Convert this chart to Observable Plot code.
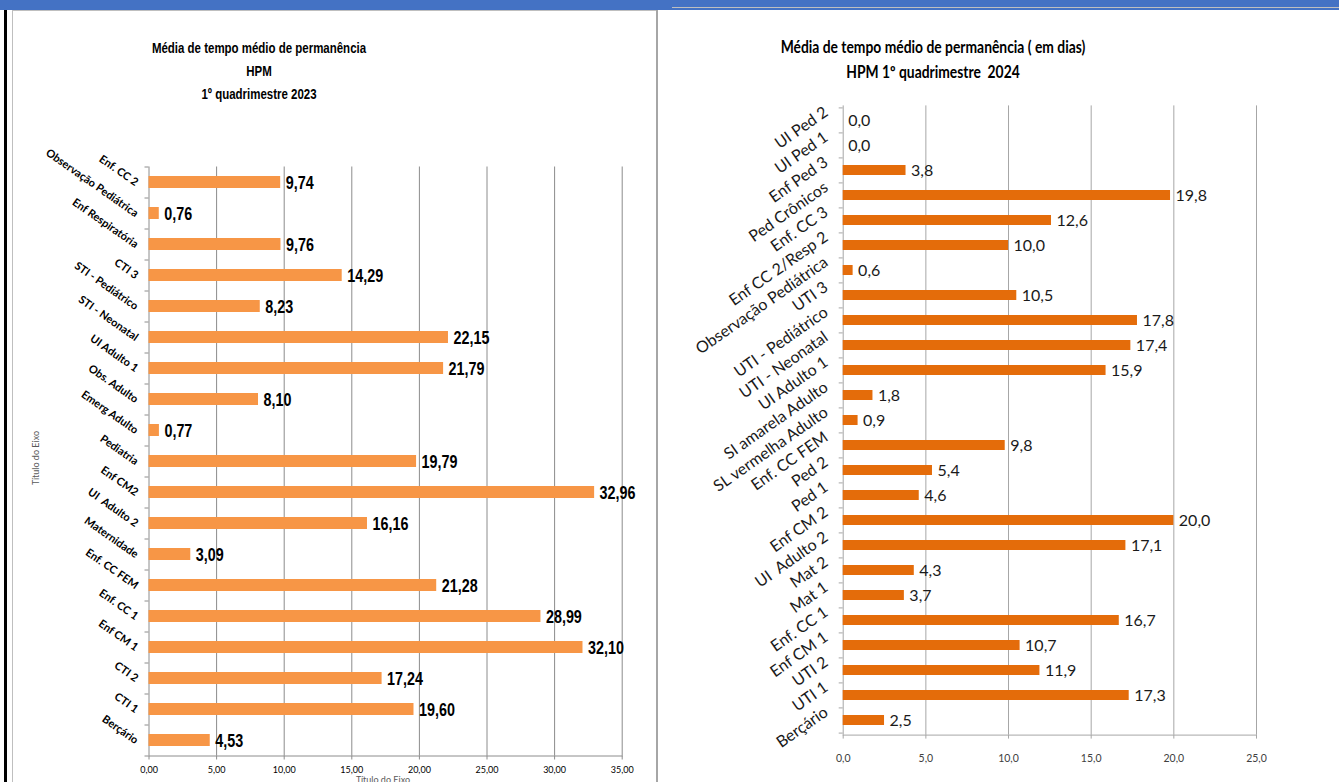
<!DOCTYPE html>
<html><head><meta charset="utf-8">
<script src="https://cdn.jsdelivr.net/npm/d3@7"></script>
<script src="https://cdn.jsdelivr.net/npm/@observablehq/plot@0.6"></script>
<style>
html,body{margin:0;padding:0;background:#fff;}
#page{position:relative;width:1339px;height:782px;overflow:hidden;background:#fff;}
.box{position:absolute;}
.t{position:absolute;white-space:pre;line-height:1;}
.narrow{font-family:"Liberation Sans",Arial,sans-serif;font-weight:bold;color:#000;transform:translate(-50%,-50%) scaleX(0.74);}
.cal{font-family:Lato,"Noto Sans",sans-serif;font-weight:bold;color:#000;transform:translate(-50%,-50%) scaleX(0.84);}
#left,#right{position:absolute;top:0;}
#left{left:0;}
#right{left:672px;}
</style></head><body>
<div id="page">
  <div class="box" style="left:0;top:0;width:1339px;height:10px;background:#4472C4"></div>
  <div class="box" style="left:672px;top:7px;width:667px;height:1px;background:#bfbfbf"></div>
  <div class="box" style="left:12px;top:10px;width:645px;height:1px;background:#bfbfbf"></div>
  <div class="box" style="left:4px;top:10px;width:3px;height:772px;background:#000"></div>
  <div class="box" style="left:12px;top:10px;width:1px;height:772px;background:#bfbfbf"></div>
  <div class="box" style="left:656px;top:10px;width:2px;height:772px;background:#a6a6a6"></div>
  <div id="left"></div>
  <div id="right"></div>
  <div class="t narrow" id="tl1" style="left:259px;top:48px;font-size:15.5px"></div>
  <div class="t narrow" id="tl2" style="left:259px;top:71px;font-size:15.5px"></div>
  <div class="t narrow" id="tl3" style="left:259px;top:94px;font-size:15.5px"></div>
  <div class="t cal" id="tr1" style="left:933px;top:47px;font-size:16.5px"></div>
  <div class="t cal" id="tr2" style="left:933px;top:72px;font-size:16.5px"></div>
  <div class="t" id="ytl" style="left:35px;top:458px;font-size:9px;font-family:Lato,sans-serif;color:#595959;transform:translate(-50%,-50%) rotate(-90deg)"></div>
  <div class="t" id="xtl" style="left:383px;top:779px;font-size:9px;font-family:Lato,sans-serif;color:#595959;transform:translate(-50%,-50%)"></div>
</div>
<script>
// ---- Data: 1º quadrimestre 2023 ----
const titles2023 = ["Média de tempo médio de permanência", "HPM", "1º quadrimestre 2023"];
const cats2023 = ["Enf. CC 2", "Observação Pediátrica", "Enf Respiratória", "CTI 3", "STI - Pediátrico",
  "STI - Neonatal", "UI Adulto 1", "Obs. Adulto", "Emerg Adulto", "Pediatria", "Enf CM2", "UI  Adulto 2",
  "Maternidade", "Enf. CC FEM", "Enf. CC 1", "Enf CM 1", "CTI 2", "CTI 1", "Berçário"];
const vals2023 = [9.74, 0.76, 9.76, 14.29, 8.23, 22.15, 21.79, 8.10, 0.77, 19.79, 32.96, 16.16,
  3.09, 21.28, 28.99, 32.10, 17.24, 19.60, 4.53];
const xTicks2023 = [0, 5, 10, 15, 20, 25, 30, 35];
const axisTitle2023 = "Título do Eixo";

// ---- Data: 1º quadrimestre 2024 ----
const titles2024 = ["Média de tempo médio de permanência ( em dias)", "HPM 1º quadrimestre  2024"];
const cats2024 = ["UI Ped 2", "UI Ped 1", "Enf Ped 3", "Ped Crônicos", "Enf. CC 3", "Enf CC 2/Resp 2",
  "Observação Pediátrica", "UTI 3", "UTI - Pediátrico", "UTI - Neonatal", "UI Adulto 1",
  "SI amarela Adulto", "SL vermelha Adulto", "Enf. CC FEM", "Ped 2", "Ped 1", "Enf CM 2",
  "UI  Adulto 2", "Mat 2", "Mat 1", "Enf. CC 1", "Enf CM 1", "UTI 2", "UTI 1", "Berçário"];
const vals2024 = [0.0, 0.0, 3.8, 19.8, 12.6, 10.0, 0.6, 10.5, 17.8, 17.4, 15.9, 1.8, 0.9, 9.8,
  5.4, 4.6, 20.0, 17.1, 4.3, 3.7, 16.7, 10.7, 11.9, 17.3, 2.5];
const xTicks2024 = [0, 5, 10, 15, 20, 25];

// titles
document.getElementById("tl1").textContent = titles2023[0];
document.getElementById("tl2").textContent = titles2023[1];
document.getElementById("tl3").textContent = titles2023[2];
document.getElementById("tr1").textContent = titles2024[0];
document.getElementById("tr2").textContent = titles2024[1];
document.getElementById("ytl").textContent = axisTitle2023;
document.getElementById("xtl").textContent = axisTitle2023;

const comma = (v, n) => v.toFixed(n).replace(".", ",");
const arial = "'Liberation Sans',Arial,sans-serif";
const cal = "Lato,'Noto Sans',sans-serif";

// condense text of a mark group horizontally (emulates a narrow face)
function condense(svg, desc, k) {
  const g = svg.querySelector(`g[aria-description="${desc}"]`);
  if (!g) return;
  g.querySelectorAll("text").forEach(t => {
    const tr = t.getAttribute("transform") || "";
    t.setAttribute("transform", tr + ` scale(${k},1)`);
  });
}

// ---- Left chart ----
{
  const W = 660, H = 782, ml = 148.5, mr = W - 621.7, mt = 166.5, mb = H - 755.5;
  const rows = cats2023.map((c, i) => ({cat: c, v: vals2023[i]}));
  const step = (H - mt - mb) / cats2023.length;
  const px = (W - ml - mr) / (xTicks2023[xTicks2023.length - 1] - xTicks2023[0]);
  const grid = "#8c8c8c";
  const svg = Plot.plot({
    width: W, height: H, marginLeft: ml, marginRight: mr, marginTop: mt, marginBottom: mb,
    style: {background: "transparent", overflow: "visible", fontFamily: cal},
    x: {domain: [xTicks2023[0], xTicks2023[xTicks2023.length - 1]], axis: null},
    y: {domain: cats2023, paddingInner: 0.6, paddingOuter: 0.3, axis: null},
    marks: [
      Plot.ruleX(xTicks2023, {stroke: grid, strokeWidth: 1}),
      Plot.frame({anchor: "bottom", stroke: grid}),
      Plot.ruleY(cats2023, {y: d => d, x1: -4 / px, x2: 0, dy: -step / 2, stroke: grid}),
      Plot.ruleY(cats2023.slice(-1), {y: d => d, x1: -4 / px, x2: 0, dy: step / 2, stroke: grid}),
      Plot.axisX({ticks: xTicks2023, tickFormat: d => comma(d, 2), tickSize: 4, tickPadding: 7,
        fontSize: 9, fontFamily: cal, stroke: grid, fill: "#000", label: null}),
      Plot.barX(rows, {x: "v", y: "cat", fill: "#F79646"}),
      Plot.text(rows, {x: "v", y: "cat", text: d => comma(d.v, 2), textAnchor: "start", dx: 5, dy: 1,
        fontSize: 17.5, fontWeight: "bold", fontFamily: arial, fill: "#000", ariaDescription: "vals"}),
      Plot.text(cats2023, {y: d => d, text: d => d, frameAnchor: "left", textAnchor: "end", rotate: 35,
        dx: -12, dy: 1, fontSize: 11, fontWeight: "bold", fontFamily: cal, fill: "#000"})
    ]
  });
  condense(svg, "vals", 0.82);
  document.getElementById("left").appendChild(svg);
}

// ---- Right chart ----
{
  const W = 667, H = 782, ml = 842.7 - 672, mr = 1339 - 1256, mt = 105.4, mb = H - 734.6;
  const rows = cats2024.map((c, i) => ({cat: c, v: vals2024[i]}));
  const step = (H - mt - mb) / cats2024.length;
  const px = (W - ml - mr) / (xTicks2024[xTicks2024.length - 1] - xTicks2024[0]);
  const grid = "#a6a6a6";
  const svg = Plot.plot({
    width: W, height: H, marginLeft: ml, marginRight: mr, marginTop: mt, marginBottom: mb,
    style: {background: "transparent", overflow: "visible", fontFamily: cal},
    x: {domain: [xTicks2024[0], xTicks2024[xTicks2024.length - 1]], axis: null},
    y: {domain: cats2024, paddingInner: 0.62, paddingOuter: 0.31, axis: null},
    marks: [
      Plot.ruleX(xTicks2024, {stroke: grid, strokeWidth: 1}),
      Plot.frame({anchor: "bottom", stroke: grid}),
      Plot.ruleY(cats2024, {y: d => d, x1: -4 / px, x2: 0, dy: -step / 2, stroke: grid}),
      Plot.ruleY(cats2024.slice(-1), {y: d => d, x1: -4 / px, x2: 0, dy: step / 2, stroke: grid}),
      Plot.axisX({ticks: xTicks2024, tickFormat: d => comma(d, 1), tickSize: 4, tickPadding: 15,
        fontSize: 10.5, fontFamily: cal, stroke: grid, fill: "#404040", label: null}),
      Plot.barX(rows, {x: "v", y: "cat", fill: "#E46C0A"}),
      Plot.text(rows, {x: "v", y: "cat", text: d => comma(d.v, 1), textAnchor: "start", dx: 5, dy: 0,
        fontSize: 16, fontFamily: cal, fill: "#1a1a1a"}),
      Plot.text(cats2024, {y: d => d, text: d => d, frameAnchor: "left", textAnchor: "end", rotate: -35,
        dx: -17, dy: -10, fontSize: 16, fontFamily: cal, fill: "#1a1a1a"})
    ]
  });
  document.getElementById("right").appendChild(svg);
}
</script>
</body></html>
